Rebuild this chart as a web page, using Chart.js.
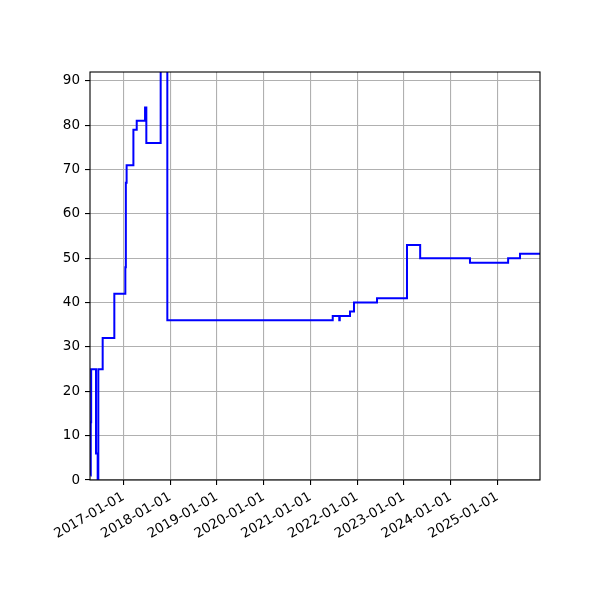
<!DOCTYPE html>
<html>
<head>
<meta charset="utf-8">
<script src="https://cdn.jsdelivr.net/npm/chart.js@4"></script>
<style>
    html, body { margin: 0; padding: 0; background: #fff; }
</style>
</head>
<body>
<canvas id="chart" width="600" height="600"></canvas>
<script>
// step data: each value holds until the next date
const dates = [
    '2016-04-18', '2016-04-21', '2016-04-24', '2016-06-01', '2016-06-14', '2016-06-19',
    '2016-07-23', '2016-10-22', '2017-01-16', '2017-01-20', '2017-01-26', '2017-03-20',
    '2017-04-15', '2017-06-19', '2017-06-29', '2017-10-19', '2017-12-10', '2021-06-24',
    '2021-08-14', '2021-08-18', '2021-11-06', '2021-12-07', '2022-06-05', '2023-01-25',
    '2023-05-08', '2024-05-31', '2025-03-25', '2025-06-26', '2025-12-05'
];
const values = [
    1, 13, 25, 6, 0, 25,
    32, 42, 48, 67, 71, 79,
    81, 84, 76, 100, 36, 37,
    36, 37, 38, 40, 41, 53,
    50, 49, 50, 51, 51
];
const yearTicks = [
    '2017-01-01', '2018-01-01', '2019-01-01', '2020-01-01', '2021-01-01',
    '2022-01-01', '2023-01-01', '2024-01-01', '2025-01-01'
];
const yTicks = [0, 10, 20, 30, 40, 50, 60, 70, 80, 90];
const xRange = ['2016-04-15', '2025-11-29'];
const yRange = [0, 92];

document.addEventListener('DOMContentLoaded', () => {
    Chart.defaults.color = '#000';
    Chart.defaults.font.family = '"DejaVu Sans", sans-serif';
    Chart.defaults.font.size = 13.5;

    const points = dates.map((d, i) => ({ x: Date.parse(d), y: values[i] }));

    // matplotlib-like frame on all four sides
    const frame = {
        id: 'frame',
        afterDatasetsDraw(chart) {
            const a = chart.chartArea, ctx = chart.ctx;
            ctx.save();
            ctx.strokeStyle = '#000';
            ctx.lineWidth = 1.1;
            ctx.strokeRect(a.left, a.top, a.right - a.left, a.bottom - a.top);
            ctx.restore();
        }
    };

    new Chart(document.getElementById('chart').getContext('2d'), {
        type: 'line',
        data: {
            datasets: [{
                data: points,
                borderColor: '#0000ff',
                borderWidth: 2,
                pointRadius: 0,
                stepped: 'before',
                fill: false
            }]
        },
        options: {
            responsive: false,
            animation: false,
            events: [],
            layout: { autoPadding: false, padding: { top: 72, right: 60, left: 0, bottom: 0 } },
            plugins: { legend: { display: false }, tooltip: { enabled: false } },
            scales: {
                x: {
                    type: 'linear',
                    min: Date.parse(xRange[0]),
                    max: Date.parse(xRange[1]),
                    afterBuildTicks: s => { s.ticks = yearTicks.map(t => ({ value: Date.parse(t) })); },
                    afterFit: s => { s.height = 120; },
                    border: { display: false },
                    grid: { color: '#b0b0b0', lineWidth: 1.1, tickColor: '#000', tickLength: 5 },
                    ticks: {
                        minRotation: 30,
                        maxRotation: 30,
                        padding: 4,
                        callback: v => new Date(v).toISOString().slice(0, 10)
                    }
                },
                y: {
                    min: yRange[0],
                    max: yRange[1],
                    afterBuildTicks: s => { s.ticks = yTicks.map(v => ({ value: v })); },
                    afterFit: s => { s.width = 90; },
                    border: { display: false },
                    grid: { color: '#b0b0b0', lineWidth: 1.1, tickColor: '#000', tickLength: 5 },
                    ticks: { padding: 5 }
                }
            }
        },
        plugins: [frame]
    });
});
</script>
</body>
</html>
